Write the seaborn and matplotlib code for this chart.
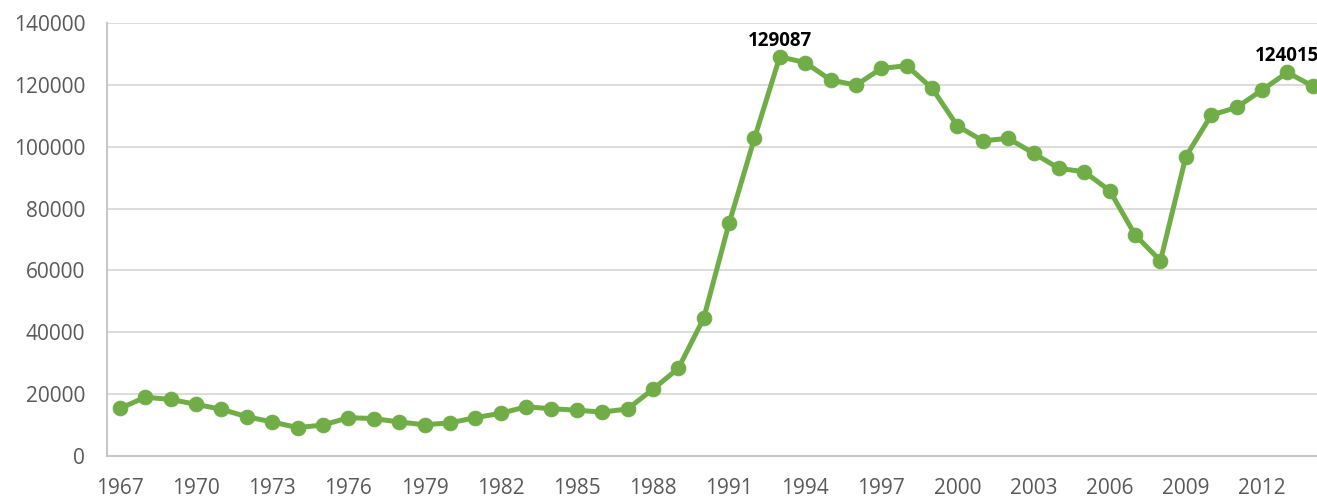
import matplotlib
matplotlib.use("Agg")
import matplotlib.pyplot as plt
import seaborn as sns
import pandas as pd

years = list(range(1967, 2015))
values = [15400, 19000, 18300, 16700, 15100, 12700, 11000, 9200, 10000, 12400,
          12100, 11000, 10100, 10700, 12400, 13800, 15900, 15300, 14800, 14200,
          15200, 21600, 28300, 44500, 75200, 102700, 129087, 127200, 121600, 119900,
          125300, 126200, 118900, 106700, 101900, 102700, 97900, 93000, 91900, 85800,
          71500, 63100, 96800, 110200, 112700, 118300, 124015, 119600]
labeled_years = [1993, 2013]
xtick_years = list(range(1967, 2013, 3))
ytick_values = list(range(0, 140001, 20000))

df = pd.DataFrame({"year": years, "value": values})

sns.set_style("white")
plt.rcParams["font.family"] = ["Open Sans", "DejaVu Sans"]

W, H = 1317, 497
fig = plt.figure(figsize=(W / 100, H / 100), dpi=100)
left_px, right_px, top_px, bottom_px = 107.3, 1325.4, 23, 456
ax = fig.add_axes([left_px / W, (H - bottom_px) / H,
                   (right_px - left_px) / W, (bottom_px - top_px) / H])

green = "#70AD47"
sns.lineplot(data=df, x="year", y="value", ax=ax, color=green, linewidth=3.6,
             marker="o", markersize=10.5, markeredgecolor=green, markerfacecolor=green,
             clip_on=False, zorder=3)

ax.set_xlim(1966.5, 2014.5)
ax.set_ylim(0, 140000)
ax.set_xticks(xtick_years)
ax.set_xticklabels([str(y) for y in xtick_years])
ax.set_yticks(ytick_values)
ax.set_yticklabels([str(v) for v in ytick_values])
ax.set_xlabel("")
ax.set_ylabel("")

ax.grid(axis="y", color="#d9d9d9", linewidth=1.3, zorder=0)
ax.grid(axis="x", visible=False)
ax.set_axisbelow(True)
for s in ["top", "right"]:
    ax.spines[s].set_visible(False)
for s in ["left", "bottom"]:
    ax.spines[s].set_color("#c8c8c8")
    ax.spines[s].set_linewidth(1.5)

ax.tick_params(axis="both", length=0, labelsize=15, colors="#595959")
ax.tick_params(axis="y", pad=16)
ax.tick_params(axis="x", pad=16)

for yr in labeled_years:
    v = values[years.index(yr)]
    ax.annotate(str(v), xy=(yr, v), xytext=(0, 4.5), textcoords="offset points",
                ha="center", va="bottom", fontsize=13.5, fontweight="bold",
                color="black", annotation_clip=False)

fig.savefig("out.png", dpi=100)
